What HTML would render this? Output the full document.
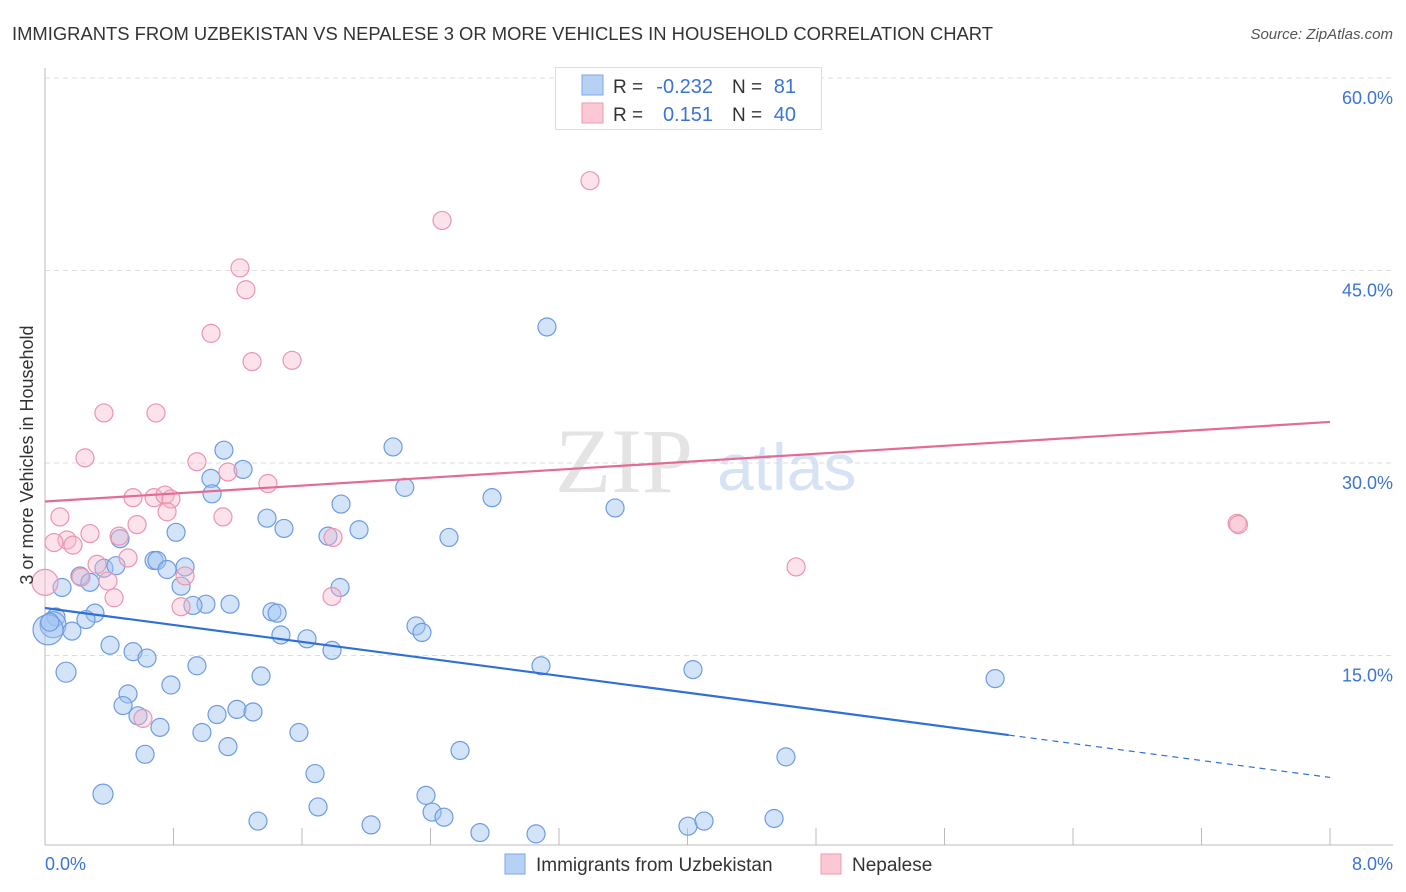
<!DOCTYPE html>
<html><head><meta charset="utf-8"><style>
body{margin:0;background:#fff;font-family:"Liberation Sans",sans-serif;}
svg{display:block}
</style></head><body>
<svg width="1406" height="892" viewBox="0 0 1406 892">
<text x="12" y="40" font-size="18" fill="#333" textLength="981" lengthAdjust="spacingAndGlyphs">IMMIGRANTS FROM UZBEKISTAN VS NEPALESE 3 OR MORE VEHICLES IN HOUSEHOLD CORRELATION CHART</text>
<text x="1393" y="39" font-size="15" fill="#555" font-style="italic" text-anchor="end">Source: ZipAtlas.com</text>
<g>
<text x="555" y="492" font-family="Liberation Serif,serif" font-size="92" fill="#e4e4e4">ZIP</text>
<text x="717" y="490" font-size="66" fill="#d6e3f5">atlas</text>
</g>
<g id="grid"></g>
<g id="axes"></g>
<g id="pts"></g>
<g id="lines"></g>
<g>
<rect x="555.5" y="67.5" width="266" height="62" fill="#fff" stroke="#ddd"/>
<rect x="582" y="75" width="21" height="20" fill="#b7d1f5" stroke="#7ea7e6"/>
<rect x="582" y="103" width="21" height="20" fill="#fbc8d6" stroke="#ee9ab3"/>
<text x="613" y="93" font-size="19" fill="#333">R =</text>
<text x="713" y="93" font-size="20" fill="#3b74d6" text-anchor="end">-0.232</text>
<text x="732" y="93" font-size="19" fill="#333">N =</text>
<text x="796" y="93" font-size="20" fill="#3b74d6" text-anchor="end">81</text>
<text x="613" y="121" font-size="19" fill="#333">R =</text>
<text x="713" y="121" font-size="20" fill="#3b74d6" text-anchor="end">0.151</text>
<text x="732" y="121" font-size="19" fill="#333">N =</text>
<text x="796" y="121" font-size="20" fill="#3b74d6" text-anchor="end">40</text>
</g>
<g>
<rect x="505" y="854" width="20" height="20" fill="#b7d1f5" stroke="#7ea7e6"/>
<text x="536" y="871" font-size="19" fill="#333">Immigrants from Uzbekistan</text>
<rect x="821" y="854" width="20" height="20" fill="#fbc8d6" stroke="#ee9ab3"/>
<text x="852" y="871" font-size="19" fill="#333">Nepalese</text>
</g>
<text transform="translate(33,455) rotate(-90)" font-size="18" fill="#333" text-anchor="middle">3 or more Vehicles in Household</text>
</svg>
<script>
const yTicks=[15,30,45,60];
const xTickLabels=["0.0%","8.0%"];
const blueX=[3.125,2.167,1.114,1.233,1.033,2.24,2.783,1.04,1.843,3.549,1.382,1.488,0.816,1.955,1.762,2.515,0.467,0.679,0.697,0.367,0.442,0.872,0.76,0.218,0.28,0.847,0.106,1.837,1.002,1.152,0.921,1.413,1.445,0.311,0.068,0.255,0.05,0.019,0.168,2.31,2.347,1.469,1.631,0.405,1.787,0.548,0.635,0.131,0.946,3.088,4.034,1.345,5.915,0.784,0.517,0.486,1.195,1.295,1.071,0.579,0.716,0.977,1.581,1.139,2.584,0.623,4.613,1.681,0.361,2.372,1.7,2.41,2.484,1.326,2.03,2.708,3.057,4.003,4.103,4.539,0.03];
const blueY=[40.6,31.25,31.0,29.5,28.8,28.1,27.3,27.6,26.8,26.5,25.7,24.9,24.6,24.8,24.3,24.2,24.1,22.4,22.4,21.8,22.0,21.9,21.7,21.2,20.7,20.4,20.3,20.3,19.0,19.0,18.9,18.4,18.3,18.3,18.0,17.8,17.4,17.0,16.9,17.3,16.8,16.6,16.3,15.8,15.4,15.3,14.8,13.7,14.2,14.2,13.9,13.4,13.2,12.7,12.0,11.1,10.8,10.6,10.4,10.3,9.4,9.0,9.0,7.9,7.6,7.3,7.1,5.8,4.2,4.1,3.2,2.8,2.4,2.1,1.8,1.2,1.1,1.7,2.1,2.3,17.6];
const blueR=[9,9,9,9,9,9,9,9,9,9,9,9,9,9,9,9,9,9,9,9,9,9,9,9,9,9,9,9,9,9,9,9,9,9,9,9,13,15,9,9,9,9,9,9,9,9,9,10,9,9,9,9,9,9,9,9,9,9,9,9,9,9,9,9,9,9,9,9,10,9,9,9,9,9,9,9,9,9,9,9,9];
const pinkX=[3.393,2.472,1.214,1.251,1.034,1.289,1.538,0.367,0.691,0.249,0.946,1.139,1.388,0.548,0.679,0.747,0.784,0.76,1.108,0.093,0.573,0.28,0.461,1.793,0.137,0.056,0.174,0.517,0.324,4.676,0.872,0.392,0,1.787,0.43,0.847,0.61,7.422,7.43,0.224];
const pinkY=[52.0,48.9,45.2,43.5,40.1,37.9,38.0,33.9,33.9,30.4,30.1,29.3,28.4,27.3,27.3,27.5,27.2,26.2,25.8,25.8,25.2,24.5,24.3,24.2,24.0,23.8,23.6,22.6,22.1,21.9,21.2,20.8,20.7,19.6,19.5,18.8,10.1,25.3,25.2,21.1];
const blueTrend=[18.7,-1.65];
const pinkTrend=[27.0,0.775];
const X0=45,X1=1330,Y0=848;
const sx=v=>X0+v/8*(X1-X0);
const sy=v=>Y0-v/15*192.5;
const NS="http://www.w3.org/2000/svg";
function mk(tag,parent,attrs){const e=document.createElementNS(NS,tag);for(const k in attrs)e.setAttribute(k,attrs[k]);document.getElementById(parent).appendChild(e);return e;}
yTicks.forEach(t=>{
  const g=mk('line','grid',{x1:45,x2:1393,y1:sy(t),y2:sy(t),stroke:'#ddd','stroke-dasharray':'5,4'});
  
  
  const l=mk('text','grid',{x:1393,y:sy(t)+26,'font-size':18,fill:'#3b74d6','text-anchor':'end'});
  l.textContent=t.toFixed(1)+'%';
  
  
});
const ax=mk('line','axes',{x1:45,x2:45,y1:68,y2:845,stroke:'#bbb'});


const bx=mk('line','axes',{x1:45,x2:1393,y1:845,y2:845,stroke:'#bbb'});


for(let i=1;i<=10;i++){
  const t=mk('line','axes',{x1:sx(i*0.8),x2:sx(i*0.8),y1:828,y2:845,stroke:'#bbb'});
  
  
}
const xl0=mk('text','axes',{x:45,y:870,'font-size':18,fill:'#3b74d6'});xl0.textContent=xTickLabels[0];


const xl1=mk('text','axes',{x:1393,y:870,'font-size':18,fill:'#3b74d6','text-anchor':'end'});xl1.textContent=xTickLabels[1];


blueX.forEach((v,i)=>{
  const c=mk('circle','pts',{cx:sx(v),cy:sy(blueY[i]),r:blueR[i],fill:'rgba(160,196,240,0.45)',stroke:'#6d9be3','stroke-width':1.2});
  
  
});
pinkX.forEach((v,i)=>{
  const c=mk('circle','pts',{cx:sx(v),cy:sy(pinkY[i]),r:i==32?13:9,fill:'rgba(248,182,202,0.4)',stroke:'#ec94ae','stroke-width':1.2});
  
  
});
const bt=x=>blueTrend[0]+blueTrend[1]*x, pt=x=>pinkTrend[0]+pinkTrend[1]*x;
const l1=mk('line','lines',{x1:sx(0),y1:sy(bt(0)),x2:sx(6),y2:sy(bt(6)),stroke:'#2f6fd8','stroke-width':2.2});


const l2=mk('line','lines',{x1:sx(6),y1:sy(bt(6)),x2:sx(8),y2:sy(bt(8)),stroke:'#2f6fd8','stroke-width':1.2,'stroke-dasharray':'6,5'});


const l3=mk('line','lines',{x1:sx(0),y1:sy(pt(0)),x2:sx(8),y2:sy(pt(8)),stroke:'#e36b94','stroke-width':2.2});


</script>
</body></html>
